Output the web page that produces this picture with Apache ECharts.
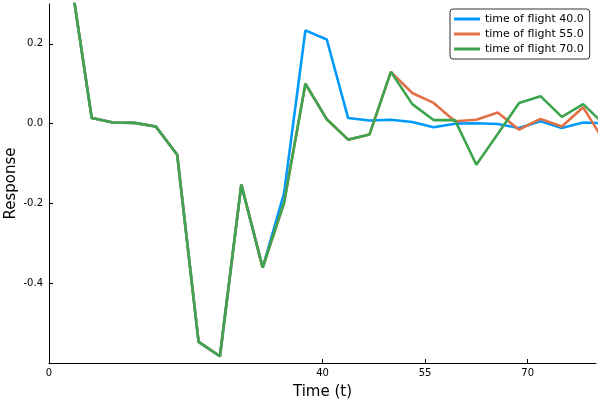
<!DOCTYPE html>
<html>
<head>
<meta charset="utf-8">
<script src="https://cdn.jsdelivr.net/npm/echarts@6/dist/echarts.min.js"></script>
<style>html,body{margin:0;padding:0;background:#fff}#c{width:600px;height:400px}</style>
</head>
<body>
<div id="c"></div>
<script>
const times = [0, 3.125, 6.25, 9.375, 12.5, 15.625, 18.75, 21.875, 25, 28.125, 31.25, 34.375, 37.5, 40.625, 43.75, 46.875, 50, 53.125, 56.25, 59.375, 62.5, 65.625, 68.75, 71.875, 75, 78.125, 81.25];
const tof40 = [0.5, 0.372, 0.014, 0.003, 0.002, -0.007, -0.078, -0.547, -0.583, -0.153, -0.361, -0.175, 0.234, 0.211, 0.014, 0.008, 0.010, 0.004, -0.009, 0.000, 0.001, -0.001, -0.011, 0.006, -0.011, 0.003, 0.001];
const tof55 = [0.5, 0.372, 0.014, 0.003, 0.002, -0.007, -0.078, -0.547, -0.583, -0.153, -0.361, -0.199, 0.100, 0.011, -0.040, -0.027, 0.130, 0.077, 0.052, 0.006, 0.010, 0.028, -0.015, 0.012, -0.007, 0.041, -0.046];
const tof70 = [0.5, 0.372, 0.014, 0.003, 0.002, -0.007, -0.078, -0.547, -0.583, -0.153, -0.361, -0.199, 0.100, 0.011, -0.040, -0.027, 0.130, 0.049, 0.009, 0.009, -0.103, -0.026, 0.052, 0.069, 0.017, 0.049, -0.003];
const seriesNames = ['time of flight 40.0', 'time of flight 55.0', 'time of flight 70.0'];
const xTicks = [0, 40, 55, 70];
const yTicks = [-0.4, -0.2, 0.0, 0.2];
const colors = ['#009AFA', '#E36F47', '#3EA44E'];

const font = 'DejaVu Sans';
const chart = echarts.init(document.getElementById('c'), null, {renderer: 'canvas'});
const mk = (vals) => times.map((t, i) => [t, vals[i]]);
const allVals = [tof40, tof55, tof70];
chart.setOption({
  animation: false,
  backgroundColor: '#fff',
  color: colors,
  grid: {left: 49, right: 4, top: 4, bottom: 37, containLabel: false, outerBoundsMode: 'none'},
  legend: {
    orient: 'vertical', left: 450, top: 9,
    padding: [4.5, 6, 4.5, 4],
    itemGap: 4, itemWidth: 26, itemHeight: 3,
    icon: 'rect',
    borderColor: '#333', borderWidth: 1, borderRadius: 3,
    backgroundColor: '#fff',
    textStyle: {fontFamily: font, fontSize: 11, color: '#000', lineHeight: 11},
    data: seriesNames
  },
  xAxis: {
    type: 'value', min: 0, max: 80,
    name: 'Time (t)', nameLocation: 'middle', nameGap: 22,
    nameTextStyle: {fontFamily: font, fontSize: 15, color: '#000'},
    axisLine: {onZero: false, lineStyle: {color: '#000', width: 1}},
    axisTick: {inside: true, length: 4, customValues: xTicks, lineStyle: {color: '#000'}},
    axisLabel: {customValues: xTicks, fontFamily: font, fontSize: 10, color: '#000', margin: 5},
    splitLine: {show: false}
  },
  yAxis: {
    type: 'value', min: -0.6, max: 0.3,
    name: 'Response', nameLocation: 'middle', nameGap: 30, nameRotate: 90, nameMoveOverlap: false,
    nameTextStyle: {fontFamily: font, fontSize: 15, color: '#000'},
    axisLine: {show: true, onZero: false, lineStyle: {color: '#000', width: 1}},
    axisTick: {show: true, inside: true, length: 4, customValues: yTicks, lineStyle: {color: '#000'}},
    axisLabel: {customValues: yTicks, fontFamily: font, fontSize: 10, color: '#000', margin: 6,
      formatter: v => v.toFixed(1)},
    splitLine: {show: false}
  },
  series: seriesNames.map((n, i) => ({
    name: n, type: 'line', data: mk(allVals[i]), symbol: 'none', clip: true,
    lineStyle: {width: 2.6, color: colors[i]}, z: 2 + i
  }))
});
</script>
</body>
</html>
